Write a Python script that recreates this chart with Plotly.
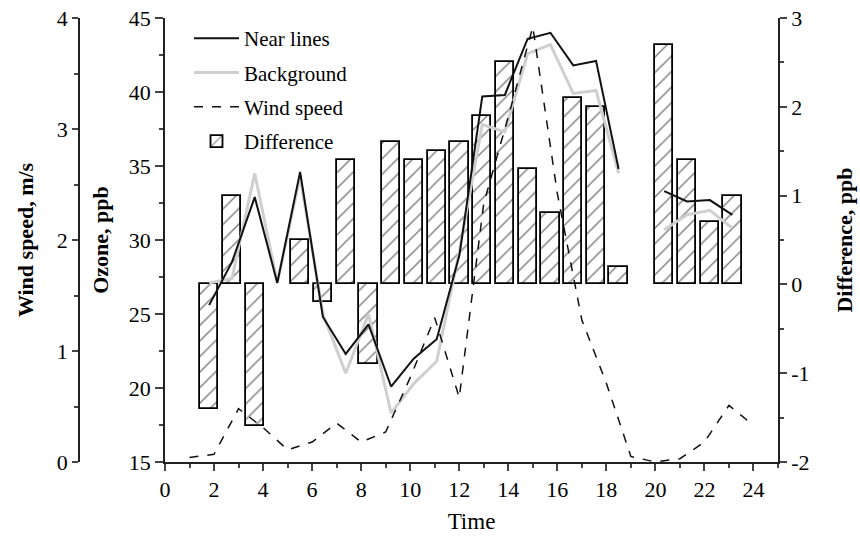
import plotly.graph_objects as go

# ---- data ----
positions = [1.80, 2.73, 3.66, 4.58, 5.51, 6.44, 7.37, 8.30, 9.22, 10.15, 11.08, 12.01,
             12.94, 13.86, 14.79, 15.72, 16.65, 17.58, 18.50, 19.43, 20.36, 21.29, 22.22, 23.14]
near_lines = [25.6, 28.5, 32.9, 27.1, 34.6, 24.8, 22.3, 24.3, 20.1, 22.0, 23.3, 29.0,
              39.7, 39.8, 43.6, 44.0, 41.8, 42.1, 34.8, None, 33.3, 32.6, 32.7, 31.7]
background = [27.1, 27.4, 34.5, 27.1, 34.3, 25.0, 21.0, 25.0, 18.3, 20.3, 21.8, 29.3,
              37.8, 37.3, 42.6, 43.2, 39.9, 40.1, 34.5, None, 30.7, 31.7, 32.0, 30.8]
difference = [-1.4, 1.0, -1.6, None, 0.5, -0.2, 1.4, -0.9, 1.6, 1.4, 1.5, 1.6,
              1.9, 2.5, 1.3, 0.8, 2.1, 2.0, 0.2, None, 2.7, 1.4, 0.7, 1.0]
hours = list(range(1, 25))
wind_speed = [0.04, 0.07, 0.48, 0.31, 0.11, 0.18, 0.35, 0.18, 0.27, 0.76, 1.30, 0.58,
              2.33, 3.11, 3.92, 2.42, 1.28, 0.71, 0.05, 0.0, 0.03, 0.18, 0.51, 0.33]

FONT = "Liberation Serif"
L, R = 20, 82
W = 860 - L - R

fig = go.Figure()

fig.add_trace(go.Bar(
    x=positions, y=difference, name="Difference", yaxis="y", width=0.746,
    marker=dict(color="white", line=dict(color="black", width=1.8),
                pattern=dict(shape="/", fgcolor="black", bgcolor="white", size=11, solidity=0.13)),
    legendrank=4, legendgroup="d",
))
fig.add_trace(go.Scatter(
    x=positions, y=background, name="Background", yaxis="y2", mode="lines",
    line=dict(color="#cfcfcf", width=3), legendrank=2, legendgroup="b",
))
fig.add_trace(go.Scatter(
    x=positions, y=near_lines, name="Near lines", yaxis="y2", mode="lines",
    line=dict(color="#111", width=2), legendrank=1, legendgroup="a",
))
fig.add_trace(go.Scatter(
    x=hours, y=wind_speed, name="Wind speed", yaxis="y3", mode="lines",
    line=dict(color="#111", width=1.5, dash="dash"), legendrank=3, legendgroup="c",
))

tickfont = dict(family=FONT, size=22, color="black")
titlefont = dict(family=FONT, size=22, color="black", weight="bold")

common = dict(showline=True, linecolor="#222", linewidth=1.5, showgrid=False,
              zeroline=False, automargin=False)

fig.update_layout(
    width=860, height=538,
    margin=dict(l=L, r=R, t=18, b=76, autoexpand=False),
    paper_bgcolor="white", plot_bgcolor="white",
    font=dict(family=FONT, color="black"),
    bargap=0,
    xaxis=dict(
        domain=[(165 - L) / W, 1], range=[0, 25],
        tickvals=list(range(0, 25, 2)), ticks="outside", ticklen=7, tickwidth=1.5,
        minor=dict(dtick=1, ticks="outside", ticklen=4, tickwidth=1.5, tick0=0),
        tickfont=tickfont,
        title=dict(text="Time", font=dict(family=FONT, size=23, color="black"), standoff=12),
        **common,
    ),
    xaxis2=dict(
        overlaying="x", side="top", matches="x", range=[0, 25],
        dtick=1, tick0=0, ticks="inside", ticklen=5, tickwidth=1.5, showticklabels=False,
        **common,
    ),
    yaxis=dict(
        side="right", range=[-2, 3], tickvals=[-2, -1, 0, 1, 2, 3],
        ticktext=["-2", "-1", "0", "1", "2", "3"],
        ticks="outside", ticklen=7, tickwidth=1.5,
        minor=dict(dtick=0.5, ticks="outside", ticklen=4, tickwidth=1.5),
        tickfont=tickfont,
        title=dict(text="Difference, ppb", font=titlefont, standoff=28),
        **common,
    ),
    yaxis2=dict(
        overlaying="y", side="left", range=[15, 45], dtick=5,
        ticks="outside", ticklen=8, tickwidth=1.5,
        minor=dict(dtick=2.5, ticks="outside", ticklen=4, tickwidth=1.5),
        tickfont=tickfont,
        title=dict(text="Ozone, ppb", font=titlefont, standoff=14),
        **common,
    ),
    yaxis3=dict(
        overlaying="y", side="left", anchor="free", position=(79 - L) / W,
        range=[0, 4], dtick=1,
        ticks="outside", ticklen=6, tickwidth=1.5,
        minor=dict(dtick=0.5, ticks="outside", ticklen=4, tickwidth=1.5),
        tickfont=tickfont,
        title=dict(text="Wind speed, m/s", font=titlefont, standoff=16),
        **common,
    ),
    legend=dict(
        x=(189 - L) / W, y=1.0, xanchor="left", yanchor="top",
        bgcolor="rgba(0,0,0,0)", font=dict(family=FONT, size=21, color="black"),
        itemwidth=45, tracegroupgap=4,
    ),
)

fig.write_html("out.html", config={"displayModeBar": False},
               post_script="document.body.style.margin='0';")
